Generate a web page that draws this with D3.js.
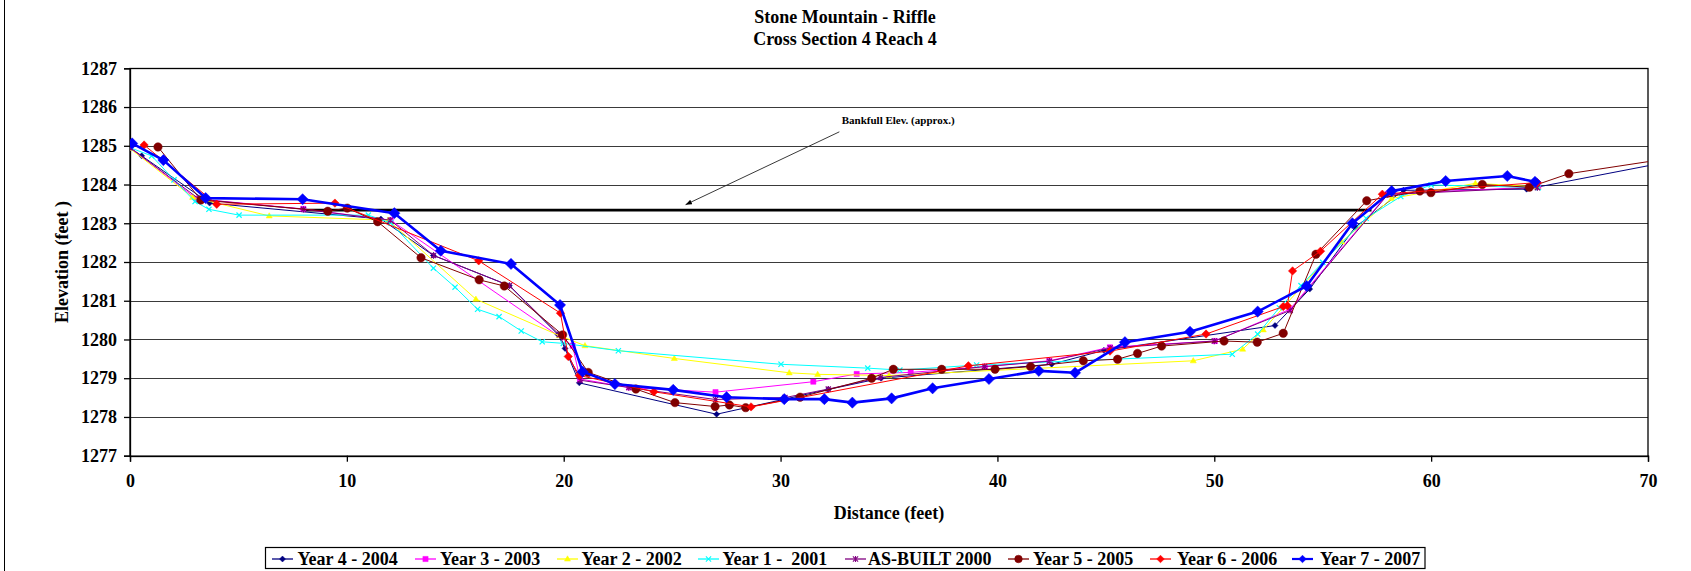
<!DOCTYPE html>
<html>
<head>
<meta charset="utf-8">
<script src="https://cdn.jsdelivr.net/npm/d3@7"></script>
<style>
  html, body { margin: 0; padding: 0; background: #fff; }
  svg text { font-family: "Liberation Serif", "Times New Roman", serif; font-weight: bold; fill: #000; }
</style>
</head>
<body>
<svg id="chart" width="1691" height="571"></svg>
<script>
// ---------- DATA (distance ft, elevation ft) ----------
const titleLines = ["Stone Mountain - Riffle", "Cross Section 4 Reach 4"];
const xTicks = [0, 10, 20, 30, 40, 50, 60, 70];
const yTicks = [1277, 1278, 1279, 1280, 1281, 1282, 1283, 1284, 1285, 1286, 1287];

const year4_2004 = [[0,1284.95],[0.54,1284.74],[3.67,1283.52],[11.57,1283.11],[13.99,1282.17],[17.49,1281.39],[19.73,1280.13],[20.06,1279.77],[20.72,1278.88],[27.05,1278.07],[32.2,1278.71],[34.63,1279.0],[42.5,1279.36],[44.91,1279.72],[52.8,1280.36],[54.4,1281.3],[56.5,1282.9],[58.72,1283.85],[64.4,1283.88],[72,1284.7]];
const year3_2003 = [[0,1284.95],[3.07,1283.63],[7.99,1283.37],[12.02,1283.08],[20.41,1279.84],[20.75,1278.98],[23.02,1278.76],[27.0,1278.64],[31.51,1278.91],[33.51,1279.11],[36.0,1279.15],[39.43,1279.30],[42.39,1279.45],[45.19,1279.80],[50.03,1279.96],[53.49,1280.78],[57.99,1283.75],[64.94,1283.94]];
const year2_2002 = [[0,1284.93],[2.89,1283.67],[6.42,1283.19],[11.91,1283.08],[15.95,1281.04],[19.8,1280.1],[20.98,1279.84],[25.1,1279.51],[30.4,1279.14],[31.71,1279.10],[35.0,1279.07],[49.03,1279.45],[51.31,1279.75],[52.26,1280.25],[55.87,1282.52],[58.18,1283.64],[62.04,1284.03],[64.9,1283.94]];
const year1_2001 = [[0,1284.95],[1.0,1284.74],[2.03,1284.12],[3.0,1283.56],[3.64,1283.36],[5.03,1283.21],[10.99,1283.21],[12.02,1283.01],[13.99,1281.84],[14.99,1281.35],[16.03,1280.78],[17.02,1280.59],[18.04,1280.22],[19.01,1279.94],[19.98,1279.90],[22.52,1279.71],[30.02,1279.36],[34.02,1279.26],[35.5,1279.21],[39.04,1279.34],[50.83,1279.62],[52.0,1280.14],[53.0,1280.82],[54.0,1281.39],[55.0,1281.99],[57.0,1283.13],[58.6,1283.69],[60.0,1283.99],[64.94,1283.92]];
const asBuilt_2000 = [[0,1284.95],[3.2,1283.62],[8.0,1283.36],[12.0,1283.08],[14.0,1282.17],[17.5,1281.39],[19.8,1280.12],[20.75,1278.95],[23.0,1278.76],[27.0,1278.45],[30.2,1278.5],[32.2,1278.72],[34.6,1279.02],[39.4,1279.3],[42.4,1279.44],[45.2,1279.78],[50.0,1279.96],[53.5,1280.75],[58.0,1283.74],[64.9,1283.92]];
const year5_2005 = [[1.29,1284.97],[3.27,1283.6],[9.12,1283.31],[10.02,1283.39],[11.42,1283.04],[13.42,1282.11],[16.1,1281.54],[17.26,1281.38],[19.95,1280.12],[21.13,1279.15],[23.33,1278.72],[25.13,1278.37],[26.98,1278.27],[27.64,1278.31],[28.39,1278.24],[30.9,1278.51],[34.2,1279.0],[35.2,1279.23],[37.43,1279.23],[39.89,1279.23],[41.53,1279.30],[43.96,1279.45],[45.54,1279.49],[46.46,1279.64],[47.57,1279.83],[50.45,1279.96],[51.98,1279.93],[53.18,1280.16],[54.69,1282.2],[57.03,1283.58],[59.48,1283.83],[59.99,1283.79],[62.36,1284.0],[64.53,1283.93],[66.35,1284.28],[72,1284.76]];
const year6_2006 = [[0.65,1285.02],[4.0,1283.49],[9.45,1283.52],[16.08,1282.03],[19.85,1280.68],[20.21,1279.56],[20.72,1279.07],[24.16,1278.65],[28.64,1278.26],[38.66,1279.32],[45.19,1279.70],[49.62,1280.14],[53.18,1280.85],[53.37,1280.87],[53.61,1281.77],[54.9,1282.28],[57.75,1283.75],[64.9,1284.05]];
const year7_2007 = [[0.1,1285.06],[1.54,1284.63],[3.49,1283.65],[7.96,1283.62],[12.19,1283.26],[14.33,1282.29],[17.57,1281.95],[19.83,1280.89],[20.87,1279.17],[22.36,1278.85],[25.05,1278.70],[27.51,1278.51],[30.17,1278.46],[32.02,1278.46],[33.31,1278.37],[35.12,1278.48],[37.01,1278.74],[39.61,1278.98],[41.91,1279.19],[43.58,1279.14],[45.88,1279.93],[48.88,1280.20],[52.0,1280.72],[54.26,1281.38],[56.37,1283.0],[58.18,1283.83],[60.67,1284.09],[63.51,1284.22],[64.79,1284.07]];

const seriesNames = ["Year 4 - 2004","Year 3 - 2003","Year 2 - 2002","Year 1 -  2001","AS-BUILT 2000","Year 5 - 2005","Year 6 - 2006","Year 7 - 2007"];
const seriesData = [year4_2004, year3_2003, year2_2002, year1_2001, asBuilt_2000, year5_2005, year6_2006, year7_2007];

const bankfullDist = [7.9, 57.25];
const bankfullElev = 1283.34;
const bankfullLabel = "Bankfull Elev. (approx.)";
const arrowFrom = [32.71, 1285.36];
const arrowTo = [25.62, 1283.48];
const labelPos = [32.82, 1285.67];

// ---------- STYLES ----------
const styles = [
  {color:"#000080", width:1,   marker:"diamond",  r:3},
  {color:"#FF00FF", width:1,   marker:"square",   r:2.6},
  {color:"#FFFF00", width:1,   marker:"triangle", r:3.2},
  {color:"#00FFFF", width:1,   marker:"x",        r:2.6},
  {color:"#800080", width:1,   marker:"asterisk", r:2.6},
  {color:"#800000", width:1,   marker:"circle",   r:4.2},
  {color:"#FF0000", width:1,   marker:"diamond",  r:4.2},
  {color:"#0000FF", width:2.6, marker:"diamond",  r:5.6}
];

function markerPath(type, r) {
  switch (type) {
    case "diamond": return `M0,${-r}L${r},0L0,${r}L${-r},0Z`;
    case "square": return `M${-r},${-r}H${r}V${r}H${-r}Z`;
    case "triangle": return `M0,${-r}L${r*0.95},${r*0.65}L${-r*0.95},${r*0.65}Z`;
    case "x": return `M${-r},${-r}L${r},${r}M${-r},${r}L${r},${-r}`;
    case "asterisk": return `M${-r},${-r}L${r},${r}M${-r},${r}L${r},${-r}M0,${-r*1.2}L0,${r*1.2}`;
    case "circle": return d3.arc()({innerRadius:0, outerRadius:r, startAngle:0, endAngle:2*Math.PI});
  }
}

const svg = d3.select("#chart");
const plot = {left:130, right:1648, top:68.3, bottom:455.7};
const x = d3.scaleLinear().domain([0,70]).range([plot.left, plot.right]);
const y = d3.scaleLinear().domain([1277,1287]).range([plot.bottom, plot.top]);

// outer left border
svg.append("line").attr("x1",4.5).attr("x2",4.5).attr("y1",0).attr("y2",571)
  .attr("stroke","#000").attr("stroke-width",1);

// title
svg.append("text").attr("x",845).attr("y",23).attr("text-anchor","middle")
  .style("font-size","18px").text(titleLines[0]);
svg.append("text").attr("x",845).attr("y",45).attr("text-anchor","middle")
  .style("font-size","18px").text(titleLines[1]);

// gridlines
svg.append("g").selectAll("line").data(yTicks).join("line")
  .attr("x1",plot.left).attr("x2",plot.right)
  .attr("y1",d=>Math.round(y(d))+0.5).attr("y2",d=>Math.round(y(d))+0.5)
  .attr("stroke","#3a3a3a").attr("stroke-width",1);

// plot frame
svg.append("rect").attr("x",plot.left).attr("y",Math.round(plot.top)+0.5)
  .attr("width",plot.right-plot.left).attr("height",Math.round(plot.bottom)-Math.round(plot.top))
  .attr("fill","none").attr("stroke","#000").attr("stroke-width",1.3);

// axes
const yAxis = d3.axisLeft(y).tickValues(yTicks).tickSize(6).tickPadding(7).tickFormat(d3.format("d"));
const gy = svg.append("g").attr("transform",`translate(${plot.left},0)`).call(yAxis);
gy.select(".domain").attr("stroke","#000").attr("stroke-width",1.3);
gy.selectAll(".tick line").attr("stroke","#000").attr("stroke-width",1.3);
gy.selectAll("text").style("font-size","18px").style("font-family","Liberation Serif, serif").style("font-weight","bold").attr("fill","#000");

const xAxis = d3.axisBottom(x).tickValues(xTicks).tickSize(6).tickPadding(13).tickFormat(d3.format("d"));
const gx = svg.append("g").attr("transform",`translate(0,${plot.bottom})`).call(xAxis);
gx.select(".domain").attr("stroke","#000").attr("stroke-width",1.3);
gx.selectAll(".tick line").attr("stroke","#000").attr("stroke-width",1.3);
gx.selectAll("text").style("font-size","18px").style("font-family","Liberation Serif, serif").style("font-weight","bold").attr("fill","#000");

// axis titles
svg.append("text").attr("x",(plot.left+plot.right)/2).attr("y",519).attr("text-anchor","middle")
  .style("font-size","18px").text("Distance (feet)");
svg.append("text").attr("transform",`translate(68,${(plot.top+plot.bottom)/2}) rotate(-90)`)
  .attr("text-anchor","middle").style("font-size","18px").style("white-space","pre").text("Elevation (feet )");

// clip
svg.append("defs").append("clipPath").attr("id","clip").append("rect")
  .attr("x",plot.left).attr("y",plot.top).attr("width",plot.right-plot.left).attr("height",plot.bottom-plot.top);

// bankfull line
svg.append("line").attr("x1",x(bankfullDist[0])).attr("x2",x(bankfullDist[1]))
  .attr("y1",y(bankfullElev)).attr("y2",y(bankfullElev))
  .attr("stroke","#000").attr("stroke-width",2.6);

// annotation
svg.append("defs").append("marker").attr("id","arrow").attr("viewBox","0 0 10 10")
  .attr("refX",10).attr("refY",5).attr("markerWidth",7).attr("markerHeight",7).attr("orient","auto")
  .append("path").attr("d","M0,1L10,5L0,9Z").attr("fill","#000");
svg.append("line").attr("x1",x(arrowFrom[0])).attr("y1",y(arrowFrom[1]))
  .attr("x2",x(arrowTo[0])).attr("y2",y(arrowTo[1]))
  .attr("stroke","#222").attr("stroke-width",0.9).attr("marker-end","url(#arrow)");
svg.append("text").attr("x",x(labelPos[0])).attr("y",y(labelPos[1])).attr("dy","0.35em")
  .style("font-size","11px").text(bankfullLabel);

// series
const line = d3.line().x(d=>x(d[0])).y(d=>y(d[1]));
const gs = svg.append("g").attr("clip-path","url(#clip)");
seriesData.forEach((data,i) => {
  const st = styles[i];
  const g = gs.append("g");
  g.append("path").datum(data).attr("d",line).attr("fill","none")
    .attr("stroke",st.color).attr("stroke-width",st.width).attr("stroke-linejoin","round");
  const lineMarker = st.marker==="x" || st.marker==="asterisk";
  g.selectAll("path.m").data(data.filter(d=>d[0]<=70)).join("path").attr("class","m")
    .attr("transform",d=>`translate(${x(d[0])},${y(d[1])})`)
    .attr("d",markerPath(st.marker, st.r))
    .attr("fill", lineMarker ? "none" : st.color)
    .attr("stroke", st.color).attr("stroke-width", lineMarker ? 1.2 : 0.5);
});

// legend
const legendSampleX = [272, 415, 557, 698, 845, 1008, 1150, 1292];
const legendTextX = [297.5, 440, 581.5, 722.5, 868, 1033, 1177, 1320];
const legend = svg.append("g");
legend.append("rect").attr("x",265.5).attr("y",547.5).attr("width",1159.5).attr("height",21)
  .attr("fill","#fff").attr("stroke","#000").attr("stroke-width",1.2);
seriesNames.forEach((name,i) => {
  const st = styles[i];
  const lx = legendSampleX[i], ly = 559;
  legend.append("line").attr("x1",lx).attr("x2",lx+21).attr("y1",ly).attr("y2",ly)
    .attr("stroke",st.color).attr("stroke-width",i===7?2.2:1.3);
  const lineMarker = st.marker==="x" || st.marker==="asterisk";
  legend.append("path").attr("transform",`translate(${lx+10.5},${ly})`)
    .attr("d",markerPath(st.marker, Math.min(st.r,3.8)))
    .attr("fill", lineMarker ? "none" : st.color).attr("stroke",st.color).attr("stroke-width",lineMarker?1.1:0.5);
  legend.append("text").attr("x",legendTextX[i]).attr("y",ly).attr("dy","0.35em")
    .style("font-size","18px").style("white-space","pre").text(name);
});
</script>
</body>
</html>
